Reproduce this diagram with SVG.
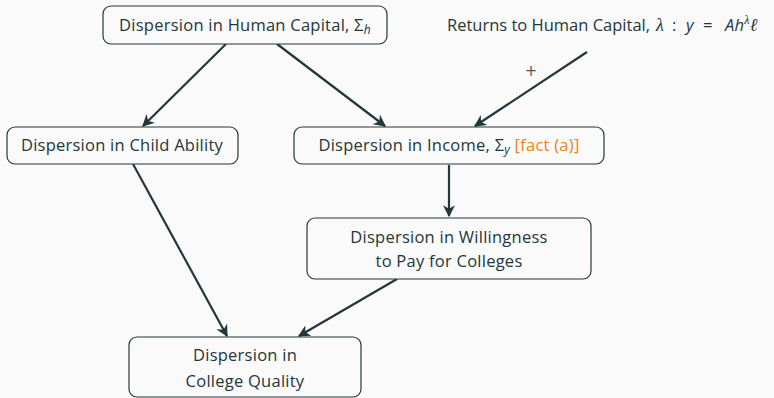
<svg xmlns="http://www.w3.org/2000/svg" width="774" height="398" viewBox="0 0 774 398">
<style>
.bg{fill:#fafafa}
.box{fill:#fafafa;stroke:#23373b;stroke-width:1.2}
.t{font-family:"Open Sans","Noto Sans",sans-serif;font-size:16.5px;letter-spacing:0.25px;fill:#23373b;text-anchor:middle}
.s{text-anchor:start}
.m{font-family:"Liberation Serif",serif;font-style:italic}
.si{font-style:italic}
.o{fill:#eb811b}
.e{stroke:#23373b;stroke-width:2.2;fill:none;marker-end:url(#ah)}
</style>
<defs>
<marker id="ah" viewBox="0 0 10 10" refX="9" refY="5" markerWidth="5.5" markerHeight="5.5" orient="auto" markerUnits="strokeWidth">
<path d="M0,0 L10,5 L0,10 L3,5 Z" fill="#23373b"/>
</marker>
</defs>
<rect class="bg" x="0" y="0" width="774" height="398"/>
<g id="edges">
<line class="e" x1="587" y1="52" x2="475" y2="126"/>
<line class="e" x1="226" y1="44" x2="143" y2="126"/>
<line class="e" x1="277" y1="44" x2="385" y2="126"/>
<line class="e" x1="449" y1="165" x2="449" y2="216"/>
<line class="e" x1="133" y1="164" x2="227" y2="336"/>
<line class="e" x1="397" y1="279" x2="299" y2="336"/>
<text x="531" y="76" style="font-family:'DejaVu Sans',sans-serif;font-size:15px;fill:#555;text-anchor:middle">+</text>
</g>
<g id="n-human">
<rect class="box" x="103" y="6" width="284" height="38" rx="8"/>
<text class="t" x="245" y="31">Dispersion in Human Capital, Σ<tspan class="si" font-size="12" dy="3">h</tspan></text>
</g>
<g id="n-returns">
<text class="t s" x="447" y="31" style="letter-spacing:0">Returns to Human Capital,</text>
<text class="t s" y="31"><tspan class="m" x="656" font-size="18">λ</tspan><tspan x="672">:</tspan><tspan class="si" x="686">y</tspan><tspan x="703">=</tspan><tspan class="si" x="725">Ah</tspan><tspan class="m" font-size="12" dy="-7">λ</tspan><tspan class="m" dy="7" font-size="18">ℓ</tspan></text>
</g>
<g id="n-child">
<rect class="box" x="7" y="127" width="231" height="37" rx="8"/>
<text class="t" x="122" y="151">Dispersion in Child Ability</text>
</g>
<g id="n-income">
<rect class="box" x="294" y="127" width="310" height="37" rx="8"/>
<text class="t" x="449" y="151">Dispersion in Income, Σ<tspan class="si" font-size="12" dy="3">y</tspan><tspan dy="-3" class="o"> [fact (a)]</tspan></text>
</g>
<g id="n-wtp">
<rect class="box" x="307" y="218" width="284" height="61" rx="8"/>
<text class="t" x="449" y="243">Dispersion in Willingness</text>
<text class="t" x="449" y="267">to Pay for Colleges</text>
</g>
<g id="n-quality">
<rect class="box" x="129" y="337" width="232" height="60" rx="8"/>
<text class="t" x="245" y="361">Dispersion in</text>
<text class="t" x="245" y="387">College Quality</text>
</g>
</svg>
